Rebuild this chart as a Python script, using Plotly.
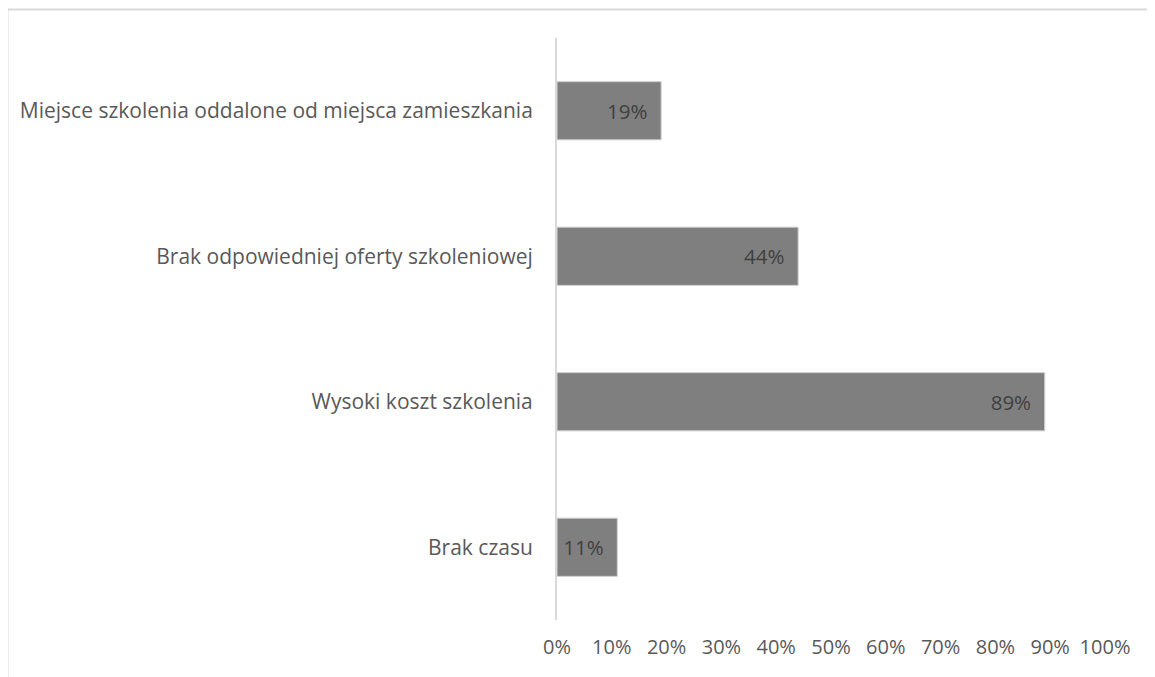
import plotly.graph_objects as go

categories = ["Brak czasu", "Wysoki koszt szkolenia",
              "Brak odpowiedniej oferty szkoleniowej",
              "Miejsce szkolenia oddalone od miejsca zamieszkania"]
values = [0.11, 0.89, 0.44, 0.19]
tick_vals = [i / 10 for i in range(11)]
tick_text = [f"{i * 10}%" for i in range(11)]

W, H = 1155, 677
L, R, T, B = 549, 58, 30, 65
pw, ph = W - L - R, H - T - B

FONT = "Open Sans"
fig = go.Figure(go.Bar(
    y=categories, x=values, orientation="h",
    marker=dict(color="#7f7f7f", line=dict(color="#cfcfcf", width=1)),
    text=[f"{round(v * 100)}%\u00a0\u00a0" for v in values],
    textposition="inside", insidetextanchor="end",
    textfont=dict(family=FONT, size=20.5, color="#404040"),
    cliponaxis=False,
))

def px(x):
    return (x - L) / pw

def py(y):
    return (H - B - y) / ph

fig.add_shape(type="rect", xref="paper", yref="paper",
              x0=px(-0.5), x1=px(1170), y0=py(700), y1=py(1.5),
              line=dict(color="#d9d9d9", width=2), fillcolor="rgba(0,0,0,0)")

fig.update_layout(
    width=W, height=H,
    margin=dict(l=L, r=R, t=T, b=B, autoexpand=False),
    paper_bgcolor="white", plot_bgcolor="white",
    bargap=0.6, showlegend=False,
    font=dict(family=FONT, size=21, color="#595959"),
    xaxis=dict(range=[0, 1], tickvals=tick_vals, ticktext=tick_text,
               showgrid=False, zeroline=False, showline=False,
               ticks="", ticklabelstandoff=13,
               tickfont=dict(family=FONT, size=20, color="#595959")),
    yaxis=dict(showgrid=False, zeroline=False, showline=True,
               linecolor="#d9d9d9", linewidth=2, ticks="",
               ticklabelstandoff=18,
               tickfont=dict(family=FONT, size=21, color="#595959")),
)
fig.write_html("out.html")
